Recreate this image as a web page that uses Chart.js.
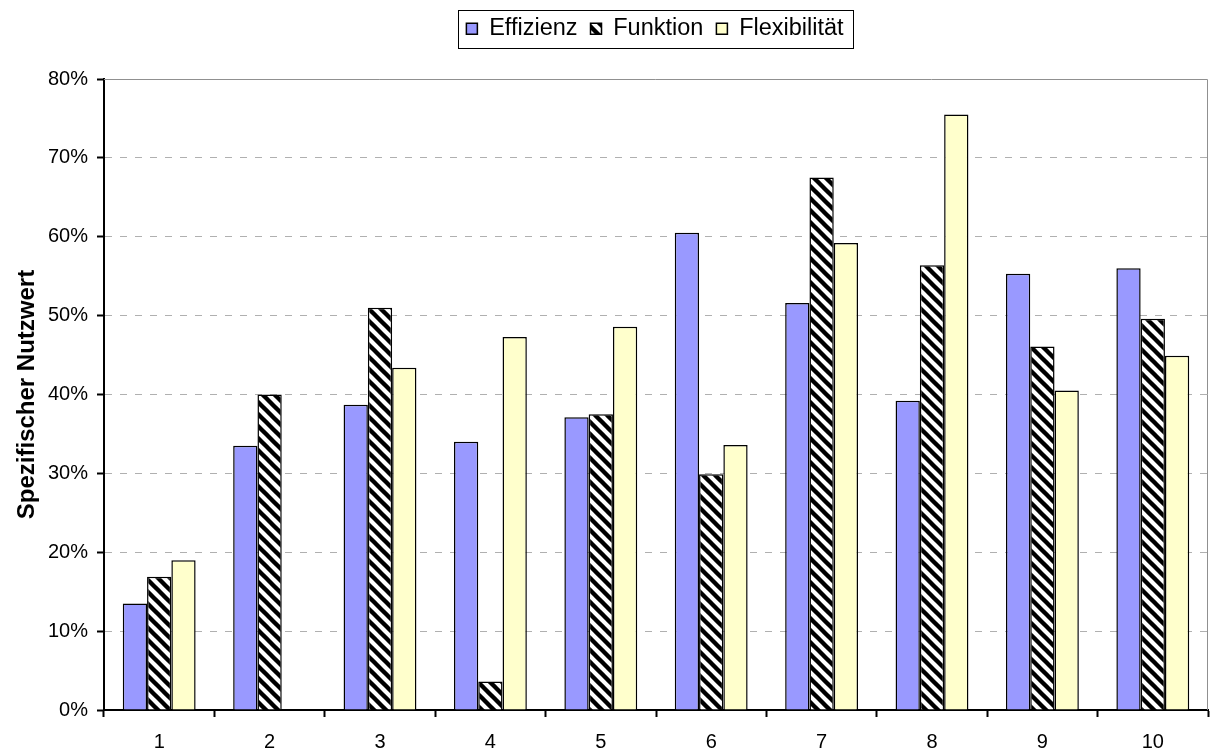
<!DOCTYPE html>
<html>
<head>
<meta charset="utf-8">
<script src="https://cdn.jsdelivr.net/npm/chart.js@4.4.1/dist/chart.umd.min.js"></script>
<style>
  html, body { margin: 0; padding: 0; background: #fff; }
  #wrap { width: 1210px; height: 749px; }
</style>
</head>
<body>
<div id="wrap"><canvas id="c" width="1210" height="749"></canvas></div>
<script>
// Categories and series (percent values)
const categories = ['1', '2', '3', '4', '5', '6', '7', '8', '9', '10'];
const effizienz = [13.5, 33.5, 38.7, 34.0, 37.1, 60.5, 51.6, 39.2, 55.3, 56.0];
const funktion = [16.9, 40.0, 51.0, 3.6, 37.5, 29.9, 67.5, 56.4, 46.1, 49.6];
const flexibilitaet = [19.0, null, 43.4, 47.3, 48.6, 33.6, 59.2, 75.5, 40.5, 44.9];
const yTicks = [0, 10, 20, 30, 40, 50, 60, 70, 80];

// Downward diagonal stripe fill
function stripePattern() {
  const s = 12;
  const tile = document.createElement('canvas');
  tile.width = s; tile.height = s;
  const t = tile.getContext('2d');
  t.fillStyle = '#fff';
  t.fillRect(0, 0, s, s);
  t.strokeStyle = '#000';
  t.lineWidth = 4.4;
  for (const o of [-s, 0, s]) {
    t.beginPath();
    t.moveTo(o - 2, -2);
    t.lineTo(o + s + 2, s + 2);
    t.stroke();
  }
  const ctx = document.getElementById('c').getContext('2d');
  return ctx.createPattern(tile, 'repeat');
}

// Frame around the legend entries
const legendFrame = {
  id: 'legendFrame',
  afterLayout(chart) {
    const lg = chart.legend;
    if (!lg) return;
    lg.left += 51;
    lg.right += 51;
  },
  afterDraw(chart) {
    const hb = chart.legend && chart.legend.legendHitBoxes;
    if (!hb || !hb.length) return;
    const first = hb[0], last = hb[hb.length - 1];
    const x1 = first.left - 8, x2 = last.left + last.width + 10;
    const y1 = first.top - 7, y2 = first.top + first.height + 7;
    const ctx = chart.ctx;
    ctx.save();
    ctx.strokeStyle = '#000';
    ctx.lineWidth = 1;
    ctx.strokeRect(Math.round(x1) + 0.5, Math.round(y1) + 0.5, Math.round(x2 - x1), Math.round(y2 - y1));
    ctx.restore();
  }
};

// Gray frame on the top and right of the plot area
const plotFrame = {
  id: 'plotFrame',
  beforeDatasetsDraw(chart) {
    const a = chart.chartArea;
    const ctx = chart.ctx;
    ctx.save();
    ctx.strokeStyle = '#909090';
    ctx.lineWidth = 1;
    ctx.beginPath();
    ctx.moveTo(a.left, Math.round(a.top) + 0.5);
    ctx.lineTo(Math.round(a.right) - 0.5, Math.round(a.top) + 0.5);
    ctx.lineTo(Math.round(a.right) - 0.5, a.bottom);
    ctx.stroke();
    ctx.restore();
  }
};

// Fixed legend band height
const legendBand = {
  id: 'legendBand',
  afterInit(chart) {
    const lg = chart.legend;
    const fit = lg.fit;
    lg.fit = function () { fit.call(this); this.height = 75; };
  }
};

Chart.defaults.font.family = '"Liberation Sans", Arial, sans-serif';
Chart.defaults.color = '#000';

const stripes = stripePattern();

new Chart(document.getElementById('c'), {
  type: 'bar',
  data: {
    labels: categories,
    datasets: [
      { label: 'Effizienz', data: effizienz, backgroundColor: '#9999ff', borderColor: '#000', borderWidth: 1.5 },
      { label: 'Funktion', data: funktion, backgroundColor: stripes, borderColor: '#000', borderWidth: 1.5 },
      { label: 'Flexibilität', data: flexibilitaet, backgroundColor: '#ffffcc', borderColor: '#000', borderWidth: 1.5 }
    ]
  },
  options: {
    responsive: false,
    animation: false,
    layout: { padding: { left: 0, right: 2, top: 4, bottom: 0 } },
    datasets: { bar: { categoryPercentage: 0.66, barPercentage: 1.0 } },
    plugins: {
      legend: {
        position: 'top',
        labels: {
          boxWidth: 11,
          boxHeight: 11,
          padding: 13,
          font: { size: 23.5 },
          color: '#000'
        }
      },
      tooltip: { enabled: false }
    },
    scales: {
      x: {
        afterFit(scale) { scale.height = 39; },
        grid: {
          offset: true,
          drawOnChartArea: false,
          drawTicks: true,
          tickLength: 7,
          tickWidth: 2,
          tickColor: '#000'
        },
        border: { display: true, color: '#000', width: 2 },
        ticks: { font: { size: 20 }, color: '#000', padding: 13, maxRotation: 0 }
      },
      y: {
        min: 0,
        max: 80,
        afterFit(scale) { scale.width = 104; },
        afterBuildTicks(scale) { scale.ticks = yTicks.map(v => ({ value: v })); },
        grid: {
          color: (c) => (c.tick && (c.tick.value === 0 || c.tick.value === 80)) ? 'rgba(0,0,0,0)' : '#b0b0b0',
          lineWidth: 1,
          drawTicks: true,
          tickLength: 7,
          tickWidth: 2,
          tickColor: '#000'
        },
        border: { display: true, color: '#000', width: 2, dash: [7, 8] },
        ticks: {
          font: { size: 20 },
          color: '#000',
          padding: 9,
          callback: (v) => v + '%'
        },
        title: {
          display: true,
          text: 'Spezifischer Nutzwert',
          font: { size: 24, weight: 'bold' },
          color: '#000',
          padding: { top: 13, bottom: 0 }
        }
      }
    }
  },
  plugins: [legendBand, legendFrame, plotFrame]
});
</script>
</body>
</html>
